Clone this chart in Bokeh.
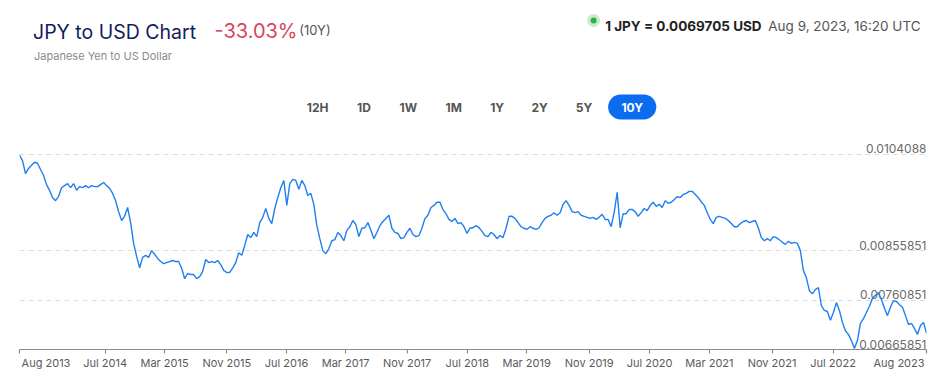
import pandas as pd
from bokeh.plotting import figure
from bokeh.layouts import column
from bokeh.models import Range1d, FixedTicker
from bokeh.core.properties import value
from bokeh.embed import file_html
from bokeh.resources import INLINE

# ---------------- data ----------------
start_date = "2013-08-09"
end_date = "2023-08-09"
usd_per_jpy = [
    0.01040, 0.01029, 0.01004, 0.01014, 0.01020, 0.01026, 0.01024, 0.01012, 0.01001, 0.00983, 0.00972, 0.00958, 0.00952, 0.00960, 0.00977, 0.00981, 0.00985, 0.00977, 0.00985, 0.00972,
    0.00979, 0.00977, 0.00981, 0.00977, 0.00981, 0.00979, 0.00979, 0.00983, 0.00987, 0.00981, 0.00976, 0.00966, 0.00952, 0.00931, 0.00914, 0.00922, 0.00939, 0.00910, 0.00870, 0.00845,
    0.00823, 0.00843, 0.00847, 0.00843, 0.00856, 0.00849, 0.00841, 0.00835, 0.00831, 0.00833, 0.00835, 0.00837, 0.00835, 0.00835, 0.00822, 0.00802, 0.00812, 0.00810, 0.00810, 0.00802,
    0.00806, 0.00816, 0.00839, 0.00833, 0.00835, 0.00833, 0.00837, 0.00829, 0.00818, 0.00814, 0.00814, 0.00823, 0.00833, 0.00852, 0.00847, 0.00866, 0.00887, 0.00881, 0.00891, 0.00883,
    0.00910, 0.00920, 0.00937, 0.00918, 0.00908, 0.00937, 0.00958, 0.00977, 0.00991, 0.00943, 0.00985, 0.00993, 0.00991, 0.00974, 0.00991, 0.00981, 0.00962, 0.00966, 0.00945, 0.00904,
    0.00879, 0.00856, 0.00850, 0.00860, 0.00875, 0.00877, 0.00891, 0.00885, 0.00875, 0.00895, 0.00902, 0.00914, 0.00906, 0.00883, 0.00899, 0.00900, 0.00910, 0.00895, 0.00879, 0.00891,
    0.00904, 0.00912, 0.00918, 0.00924, 0.00899, 0.00891, 0.00889, 0.00879, 0.00881, 0.00891, 0.00899, 0.00887, 0.00883, 0.00885, 0.00899, 0.00918, 0.00924, 0.00939, 0.00943, 0.00949,
    0.00949, 0.00935, 0.00927, 0.00916, 0.00912, 0.00918, 0.00908, 0.00910, 0.00902, 0.00889, 0.00899, 0.00900, 0.00904, 0.00900, 0.00893, 0.00885, 0.00883, 0.00891, 0.00887, 0.00879,
    0.00885, 0.00881, 0.00899, 0.00922, 0.00922, 0.00918, 0.00910, 0.00902, 0.00899, 0.00897, 0.00902, 0.00899, 0.00897, 0.00900, 0.00910, 0.00918, 0.00922, 0.00924, 0.00929, 0.00924,
    0.00929, 0.00945, 0.00952, 0.00943, 0.00931, 0.00929, 0.00931, 0.00924, 0.00922, 0.00920, 0.00918, 0.00920, 0.00916, 0.00920, 0.00926, 0.00916, 0.00916, 0.00902, 0.00929, 0.00968,
    0.00900, 0.00927, 0.00927, 0.00935, 0.00935, 0.00931, 0.00922, 0.00929, 0.00937, 0.00933, 0.00943, 0.00949, 0.00941, 0.00945, 0.00939, 0.00952, 0.00947, 0.00949, 0.00954, 0.00960,
    0.00958, 0.00964, 0.00966, 0.00970, 0.00970, 0.00964, 0.00958, 0.00950, 0.00943, 0.00929, 0.00916, 0.00908, 0.00920, 0.00922, 0.00920, 0.00918, 0.00914, 0.00908, 0.00902, 0.00902,
    0.00908, 0.00912, 0.00914, 0.00910, 0.00912, 0.00914, 0.00900, 0.00881, 0.00875, 0.00879, 0.00875, 0.00883, 0.00881, 0.00877, 0.00872, 0.00868, 0.00874, 0.00870, 0.00872, 0.00870,
    0.00856, 0.00818, 0.00804, 0.00779, 0.00773, 0.00781, 0.00785, 0.00750, 0.00741, 0.00739, 0.00722, 0.00737, 0.00756, 0.00741, 0.00718, 0.00702, 0.00695, 0.00683, 0.00668, 0.00683,
    0.00716, 0.00725, 0.00737, 0.00749, 0.00764, 0.00770, 0.00775, 0.00762, 0.00745, 0.00731, 0.00747, 0.00760, 0.00758, 0.00752, 0.00747, 0.00731, 0.00714, 0.00716, 0.00706, 0.00695,
    0.00712, 0.00718, 0.00697,
]

y_ticks = [0.00665851, 0.00760851, 0.00855851, 0.0104088]
y_tick_labels = ["0.00665851", "0.00760851", "0.00855851", "0.0104088"]

x_tick_dates = ["2014-07-20", "2015-03-16", "2015-11-22", "2016-07-19", "2017-03-14",
                "2017-11-17", "2018-07-17", "2019-03-13", "2019-11-20", "2020-07-20",
                "2021-03-18", "2021-11-25", "2022-07-29"]
x_tick_labels = ["Jul 2014", "Mar 2015", "Nov 2015", "Jul 2016", "Mar 2017",
                 "Nov 2017", "Jul 2018", "Mar 2019", "Nov 2019", "Jul 2020",
                 "Mar 2021", "Nov 2021", "Jul 2022"]
first_label = "Aug 2013"
last_label = "Aug 2023"

title = "JPY to USD Chart"
change = "-33.03%"
period = "(10Y)"
subtitle = "Japanese Yen to US Dollar"
rate_text = "1 JPY = 0.0069705 USD"
stamp_text = "Aug 9, 2023, 16:20 UTC"
buttons = ["12H", "1D", "1W", "1M", "1Y", "2Y", "5Y", "10Y"]
active_button = "10Y"

FONT = value("Inter")

# ---------------- header ----------------
H = 130
h = figure(width=940, height=H, x_range=Range1d(0, 940), y_range=Range1d(H, 0),
           output_backend="svg", toolbar_location=None, min_border=0,
           x_axis_location=None, y_axis_location=None)
h.grid.visible = False
h.outline_line_color = None

h.text(x=[14], y=[31], text=[title], text_font=FONT, text_font_size="19.5px",
       text_color="#141b5e", text_align="left", text_baseline="alphabetic")
h.text(x=[202], y=[30], text=[change], text_font=FONT, text_font_size="20px",
       text_color="#d8455b", text_align="left", text_baseline="alphabetic")
h.text(x=[290], y=[29], text=[period], text_font=FONT, text_font_size="13px",
       text_color="#555555", text_align="left", text_baseline="alphabetic")
h.text(x=[15], y=[55], text=[subtitle], text_font=FONT, text_font_size="11px",
       text_color="#8a8a8a", text_align="left", text_baseline="alphabetic")

h.scatter(x=[595], y=[20], size=13, marker="circle", fill_color="#c6ebcd", line_color=None)
h.scatter(x=[595], y=[20], size=6, marker="circle", fill_color="#27b14a", line_color=None)
h.text(x=[607], y=[25], text=[rate_text], text_font=FONT, text_font_size="13.5px",
       text_font_style="bold", text_color="#222222", text_align="left", text_baseline="alphabetic")
h.text(x=[776], y=[25], text=[stamp_text], text_font=FONT, text_font_size="13.5px",
       text_color="#555555", text_align="left", text_baseline="alphabetic")

btn_x = [309, 357, 403, 450, 495, 539, 585, 635]
h.line(x=[623, 647], y=[106.5, 106.5], line_width=25, line_cap="round", line_color="#0b6cf0")
h.text(x=btn_x, y=[107] * len(buttons), text=buttons, text_font=FONT, text_font_size="12px",
       text_font_style="bold",
       text_color=["#ffffff" if b == active_button else "#555555" for b in buttons],
       text_align="center", text_baseline="middle")

# ---------------- chart ----------------
t0 = pd.Timestamp(start_date)
t1 = pd.Timestamp(end_date)
dates = pd.date_range(t0, t1, periods=len(usd_per_jpy))

def ms(t):
    return int(pd.Timestamp(t).value // 10**6)

y_lo = y_ticks[0]
y_hi = 0.0108703

FRAME_W = 907
p = figure(width=940, height=386 - H, x_axis_type="datetime",
           x_range=Range1d(t0, t1), y_range=Range1d(y_lo, y_hi),
           output_backend="svg", toolbar_location=None,
           min_border_left=19, min_border_right=14, min_border_top=0, min_border_bottom=37,
           y_axis_location=None)
p.outline_line_color = None
p.xgrid.visible = False
p.ygrid.ticker = FixedTicker(ticks=y_ticks)
p.ygrid.grid_line_color = "#dcdcdc"
p.ygrid.grid_line_dash = "5 4"
p.ygrid.grid_line_width = 1

p.text(x=[t1] * len(y_ticks), y=y_ticks, text=y_tick_labels, text_font=FONT,
       text_font_size="12px", text_color="#6a6a6a", text_align="right",
       text_baseline="bottom", y_offset=-1)

p.line(dates, usd_per_jpy, line_color="#1f7ff0", line_width=1.4)

# x axis: tick marks drawn as minor ticks (incl. both ends); labels on major ticks,
# with the two end labels pulled inward so they stay inside the canvas
span_ms = ms(t1) - ms(t0)
first_pos = ms(t0) + int(span_ms * 26.5 / FRAME_W)
last_pos = ms(t1) - int(span_ms * 27.5 / FRAME_W)
mid_ms = [ms(d) for d in x_tick_dates]
major = [first_pos] + mid_ms + [last_pos]
minor = [ms(t0)] + mid_ms + [ms(t1)]
overrides = {first_pos: first_label, last_pos: last_label}
for m, lab in zip(mid_ms, x_tick_labels):
    overrides[m] = lab

ax = p.xaxis[0]
ax.ticker = FixedTicker(ticks=major, minor_ticks=minor)
ax.major_label_overrides = overrides
ax.major_tick_line_color = None
ax.major_tick_in = 0
ax.major_tick_out = 4
ax.minor_tick_in = 0
ax.minor_tick_out = 4
ax.minor_tick_line_color = "#8c8c8c"
ax.minor_tick_line_width = 1.2
ax.major_label_standoff = 2
ax.axis_line_color = "#8c8c8c"
ax.axis_line_width = 1.2
ax.major_label_text_color = "#5a5a5a"
ax.major_label_text_font = "Inter"
ax.major_label_text_font_size = "11px"

layout = column(h, p)
open("out.html", "w").write(file_html(layout, INLINE))
